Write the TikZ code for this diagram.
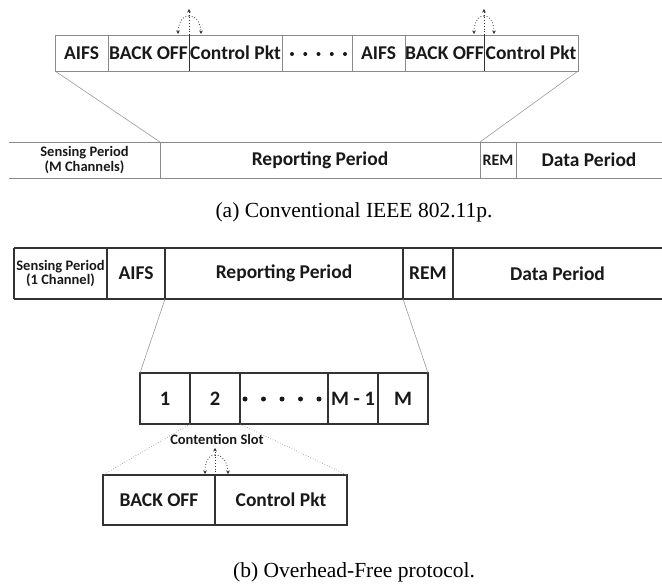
\documentclass[tikz,border=0pt]{standalone}
\usepackage{fontspec}
\setmainfont{Carlito}
\newfontfamily\capfont{Liberation Serif}
\usetikzlibrary{arrows.meta}
\definecolor{lgray}{HTML}{8A8A8A}
\definecolor{dgray}{HTML}{333333}
\definecolor{sgray}{HTML}{9A9A9A}
\begin{document}
\begin{tikzpicture}[x=1pt,y=-1pt,
  cell/.style={inner sep=0pt, outer sep=0pt, anchor=north west, text=black!90,
    font=\bfseries\fontsize{19.5}{21}\selectfont},
  small/.style={font=\bfseries\fontsize{14.5}{12.5}\selectfont, align=center},
  rowa/.style={draw=lgray, line width=0.9pt},
  rowb/.style={draw=dgray, line width=1.1pt},
  zoomline/.style={draw=sgray, line width=0.6pt},
  forkline/.style={dotted, line width=0.8pt, draw=dgray, -{Stealth[length=3.5pt,width=3.5pt]}},
  dotmark/.style={fill=black!90, draw=none},
  caption/.style={inner sep=0pt, font=\capfont\fontsize{21.5}{24}\selectfont}]
\useasboundingbox (0,0) rectangle (662,588);

% ---------- (a) top row ----------
\node[cell, rowa, minimum width=53pt, minimum height=36pt] (ta1) at (55,35) {AIFS};
\node[cell, rowa, minimum width=81pt, minimum height=36pt] (tb1) at (108,35) {BACK OFF};
\node[cell, rowa, minimum width=93pt, minimum height=36pt] (tc1) at (189,35) {Control Pkt};
\node[cell, rowa, minimum width=70pt, minimum height=36pt] (td) at (282,35) {};
\node[cell, rowa, minimum width=53pt, minimum height=36pt] (ta2) at (352,35) {AIFS};
\node[cell, rowa, minimum width=79pt, minimum height=36pt] (tb2) at (405,35) {BACK OFF};
\node[cell, rowa, minimum width=94pt, minimum height=36pt] (tc2) at (484,35) {Control Pkt};
\foreach \x in {292,305.25,318.5,331.75,345} \fill[dotmark] (\x,54) circle (2pt);
\draw[dgray, line width=1pt] (tb1.north east) -- (tb1.south east);
\draw[dgray, line width=1pt] (tb2.north east) -- (tb2.south east);

% fork arrows (a)
\coordinate (fa1) at (189,9);
\coordinate (fa1s) at (189,16);
\coordinate (fa1l) at (178,34);
\coordinate (fa1r) at (201,34);
\draw[forkline] (tb1.north east) -- (fa1);
\draw[forkline] (fa1s) to[out=180,in=90] (fa1l);
\draw[forkline] (fa1s) to[out=0,in=90] (fa1r);
\coordinate (fa2) at (484,9);
\coordinate (fa2s) at (484,16);
\coordinate (fa2l) at (474,34);
\coordinate (fa2r) at (494,34);
\draw[forkline] (tb2.north east) -- (fa2);
\draw[forkline] (fa2s) to[out=180,in=90] (fa2l);
\draw[forkline] (fa2s) to[out=0,in=90] (fa2r);

% ---------- (a) frame row ----------
\node[cell, small, minimum width=151pt, minimum height=36pt] (sa) at (9,142) {Sensing Period\\(M Channels)};
\node[cell, minimum width=320pt, minimum height=36pt] (ra) at (160,142) {Reporting Period};
\node[cell, font=\bfseries\fontsize{16}{17}\selectfont, minimum width=36pt, minimum height=36pt] (rema) at (480,142) {REM};
\node[cell, minimum width=146pt, minimum height=36pt] (da) at (516,142) {Data Period};
\draw[rowa] (sa.north west) -- (da.north east);
\draw[rowa] (sa.south west) -- (da.south east);
\draw[rowa] (ra.north west) -- (ra.south west);
\draw[rowa] (rema.north west) -- (rema.south west);
\draw[rowa] (rema.north east) -- (rema.south east);
\draw[zoomline] (ta1.south west) -- (ra.north west);
\draw[zoomline] (tc2.south east) -- (rema.north west);

\node[caption] (capa) at (354,212) {(a) Conventional IEEE 802.11p.};

% ---------- (b) frame row ----------
\node[cell, small, font=\bfseries\fontsize{14.5}{13}\selectfont, minimum width=93pt, minimum height=51pt] (sb) at (14,248) {Sensing Period\\(1 Channel)};
\node[cell, minimum width=58pt, minimum height=51pt] (ab) at (107,248) {AIFS};
\node[cell, minimum width=238pt, minimum height=51pt] (rb) at (165,248) {Reporting Period};
\node[cell, minimum width=50pt, minimum height=51pt] (remb) at (403,248) {REM};
\node[cell, minimum width=209pt, minimum height=51pt] (db) at (453,248) {Data Period};
\draw[rowb] (sb.north west) -- (db.north east);
\draw[rowb] (sb.south west) -- (db.south east);
\draw[rowb] (sb.north west) -- (sb.south west);
\draw[rowb] (ab.north west) -- (ab.south west);
\draw[rowb] (rb.north west) -- (rb.south west);
\draw[rowb] (remb.north west) -- (remb.south west);
\draw[rowb] (remb.north east) -- (remb.south east);

% slots
\node[cell, rowb, font=\bfseries\fontsize{20.5}{22}\selectfont, minimum width=50pt, minimum height=51pt] (s1) at (140,373) {1};
\node[cell, rowb, font=\bfseries\fontsize{20.5}{22}\selectfont, minimum width=50pt, minimum height=51pt] (s2) at (190,373) {2};
\node[cell, rowb, minimum width=88pt, minimum height=51pt] (sd) at (240,373) {};
\node[cell, rowb, font=\bfseries\fontsize{20.5}{22}\selectfont, minimum width=50pt, minimum height=51pt] (sm1) at (328,373) {M - 1};
\node[cell, rowb, font=\bfseries\fontsize{20.5}{22}\selectfont, minimum width=50pt, minimum height=51pt] (sm) at (378,373) {M};
\foreach \x in {245,263.5,282,300.5,319} \fill[dotmark] (\x,399) circle (2.5pt);
\draw[zoomline] (rb.south west) -- (s1.north west);
\draw[zoomline] (remb.south west) -- (sm.north east);

% contention slot
\node[font=\bfseries\fontsize{14.5}{16}\selectfont, inner sep=0pt, text=black!90] (cs) at (217,439) {Contention Slot};
\node[cell, rowb, minimum width=112pt, minimum height=50pt] (cb) at (103,475) {BACK OFF};
\node[cell, rowb, minimum width=132pt, minimum height=50pt] (cc) at (215,475) {Control Pkt};
\draw[zoomline, dotted, line width=0.8pt] (s2.south west) -- (cb.north west);
\draw[zoomline, dotted, line width=0.8pt] (s2.south east) -- (cc.north east);

\coordinate (fb) at (215,448);
\coordinate (fbs) at (215,455);
\coordinate (fbl) at (205,474);
\coordinate (fbr) at (228,474);
\draw[forkline] (cb.north east) -- (fb);
\draw[forkline] (fbs) to[out=180,in=90] (fbl);
\draw[forkline] (fbs) to[out=0,in=90] (fbr);

\node[caption] (capb) at (354,572) {(b) Overhead-Free protocol.};
\end{tikzpicture}
\end{document}
